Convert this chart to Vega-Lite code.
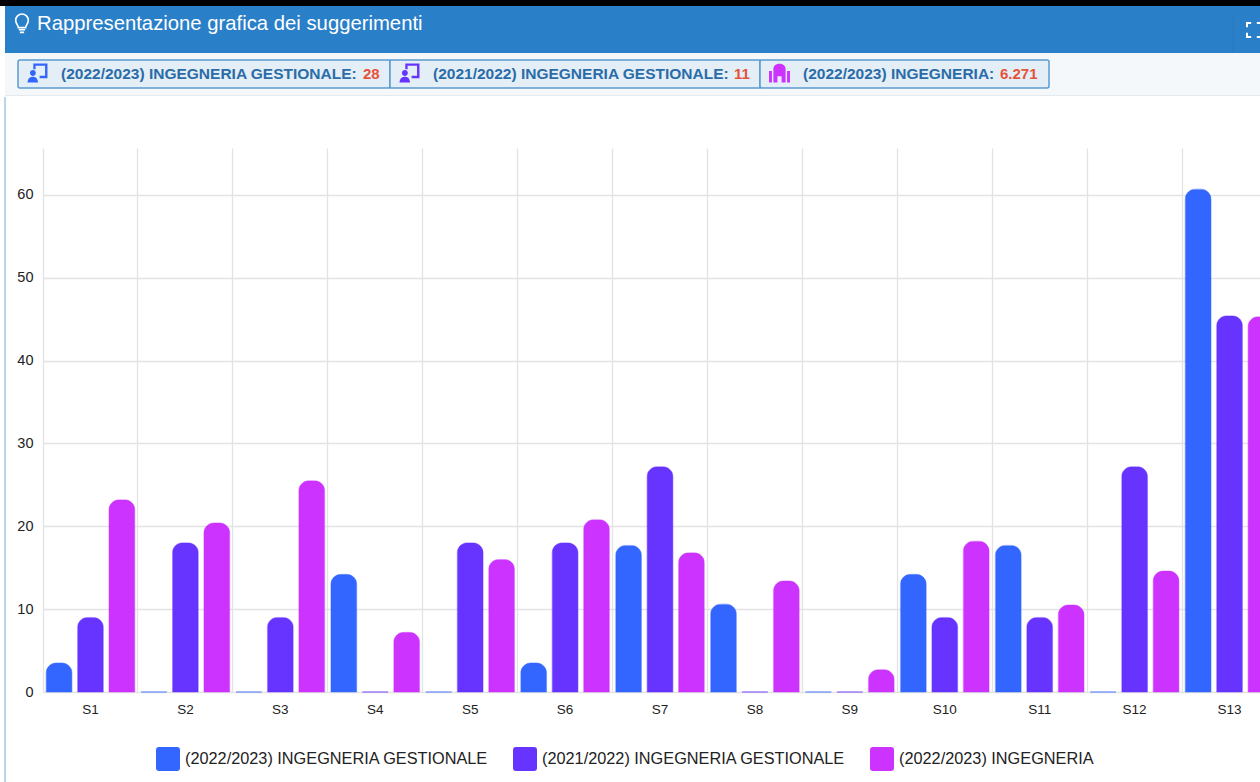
{
"$schema":"https://vega.github.io/schema/vega-lite/v6.json",
"background":"#ffffff",
"padding":0,
"autosize":{"type":"pad"},
"spacing":0,
"config":{"view":{"stroke":null},"font":"Liberation Sans"},
"vconcat":[
{"width":1217,"height":96,
 "data":{"values":[{"title":"Rappresentazione grafica dei suggerimenti"}]},
 "layer":[
  {"mark":{"type":"rect","color":"#000000"},"encoding":{"x":{"datum":0,"type":"quantitative","scale":{"domain":[43,1260],"range":[0,1217],"nice":false,"zero":false},"axis":null},"x2":{"datum":1260},"y":{"datum":0,"type":"quantitative","scale":{"domain":[0,96],"range":[0,96],"nice":false,"zero":false},"axis":null},"y2":{"datum":6}}},
  {"mark":{"type":"rect","color":"#2a7fc9"},"encoding":{"x":{"datum":5,"type":"quantitative"},"x2":{"datum":1260},"y":{"datum":6,"type":"quantitative"},"y2":{"datum":53}}},
  {"mark":{"type":"rect","color":"#f4f8fb"},"encoding":{"x":{"datum":5,"type":"quantitative"},"x2":{"datum":1260},"y":{"datum":53,"type":"quantitative"},"y2":{"datum":95}}},
  {"mark":{"type":"rule","color":"#e4e9ee"},"encoding":{"x":{"datum":5,"type":"quantitative"},"x2":{"datum":1260},"y":{"datum":95.5,"type":"quantitative"}}},
  {"mark":{"type":"rule","color":"#2878c0"},"encoding":{"x":{"datum":1233,"type":"quantitative"},"y":{"datum":16,"type":"quantitative"},"y2":{"datum":53}}},
  {"mark":{"type":"text","align":"left","baseline":"middle","fontSize":20.3,"color":"#ffffff"},"encoding":{"x":{"datum":37,"type":"quantitative"},"y":{"datum":24,"type":"quantitative"},"text":{"field":"title"}}},
  {"mark":{"type":"point","shape":"M-0.35,0.35C-0.35,0.1,-0.6,0,-0.6,-0.35A0.6,0.6,0,1,1,0.6,-0.35C0.6,0,0.35,0.1,0.35,0.35Z M-0.3,0.55H0.3 M-0.2,0.8H0.2","size":440,"filled":false,"stroke":"#ffffff","strokeWidth":1.6,"opacity":1},"encoding":{"x":{"datum":22,"type":"quantitative"},"y":{"datum":24,"type":"quantitative"}}},
  {"mark":{"type":"point","shape":"M-1,-0.4V-1H-0.4 M0.4,-1H1V-0.4 M1,0.4V1H0.4 M-0.4,1H-1V0.4","size":196,"filled":false,"stroke":"#ffffff","strokeWidth":2,"opacity":1},"encoding":{"x":{"datum":1254,"type":"quantitative"},"y":{"datum":30,"type":"quantitative"}}},
  {"mark":{"type":"rect","color":"#e4eef6","stroke":"#5a9bcf","strokeWidth":1.5,"cornerRadius":2},"encoding":{"x":{"datum":18,"type":"quantitative"},"x2":{"datum":390},"y":{"datum":60,"type":"quantitative"},"y2":{"datum":88}}},
  {"mark":{"type":"rect","color":"#e4eef6","stroke":"#5a9bcf","strokeWidth":1.5},"encoding":{"x":{"datum":390,"type":"quantitative"},"x2":{"datum":760},"y":{"datum":60,"type":"quantitative"},"y2":{"datum":88}}},
  {"mark":{"type":"rect","color":"#e4eef6","stroke":"#5a9bcf","strokeWidth":1.5,"cornerRadius":2},"encoding":{"x":{"datum":760,"type":"quantitative"},"x2":{"datum":1049},"y":{"datum":60,"type":"quantitative"},"y2":{"datum":88}}},
  {"mark":{"type":"point","shape":"M-0.72,0A0.28,0.28,0,1,0,-0.16,0A0.28,0.28,0,1,0,-0.72,0Z M-0.95,0.9C-0.95,0.45,-0.6,0.35,-0.44,0.35C-0.28,0.35,0.05,0.45,0.05,0.9Z M-0.4,-0.9H0.95V0.5H0.2V0.25H0.72V-0.68H-0.18V-0.35H-0.4Z","size":441,"filled":true,"fill":"#3366ff","strokeWidth":0,"opacity":1},"encoding":{"x":{"datum":37.5,"type":"quantitative"},"y":{"datum":73,"type":"quantitative"}}},
  {"mark":{"type":"point","shape":"M-0.72,0A0.28,0.28,0,1,0,-0.16,0A0.28,0.28,0,1,0,-0.72,0Z M-0.95,0.9C-0.95,0.45,-0.6,0.35,-0.44,0.35C-0.28,0.35,0.05,0.45,0.05,0.9Z M-0.4,-0.9H0.95V0.5H0.2V0.25H0.72V-0.68H-0.18V-0.35H-0.4Z","size":441,"filled":true,"fill":"#6633ff","strokeWidth":0,"opacity":1},"encoding":{"x":{"datum":409.5,"type":"quantitative"},"y":{"datum":73,"type":"quantitative"}}},
  {"mark":{"type":"point","shape":"M-1,0.9V-0.2H-0.72V0.9Z M0.72,0.9V-0.2H1V0.9Z M-0.58,0.9V-0.4C-0.58,-1.05,0.58,-1.05,0.58,-0.4V0.9H0.2V0.3H-0.2V0.9Z","size":441,"filled":true,"fill":"#cc33ff","strokeWidth":0,"opacity":1},"encoding":{"x":{"datum":779.5,"type":"quantitative"},"y":{"datum":73,"type":"quantitative"}}},
  {"mark":{"type":"text","align":"left","baseline":"middle","fontSize":15.5,"fontWeight":"bold","color":"#2a6ca8"},"encoding":{"x":{"datum":61,"type":"quantitative"},"y":{"datum":74,"type":"quantitative"},"text":{"datum":"(2022/2023) INGEGNERIA GESTIONALE:"}}},
  {"mark":{"type":"text","align":"left","baseline":"middle","fontSize":15,"fontWeight":"bold","color":"#e4533a"},"encoding":{"x":{"datum":363,"type":"quantitative"},"y":{"datum":74,"type":"quantitative"},"text":{"datum":"28"}}},
  {"mark":{"type":"text","align":"left","baseline":"middle","fontSize":15.5,"fontWeight":"bold","color":"#2a6ca8"},"encoding":{"x":{"datum":433,"type":"quantitative"},"y":{"datum":74,"type":"quantitative"},"text":{"datum":"(2021/2022) INGEGNERIA GESTIONALE:"}}},
  {"mark":{"type":"text","align":"left","baseline":"middle","fontSize":15,"fontWeight":"bold","color":"#e4533a"},"encoding":{"x":{"datum":734,"type":"quantitative"},"y":{"datum":74,"type":"quantitative"},"text":{"datum":"11"}}},
  {"mark":{"type":"text","align":"left","baseline":"middle","fontSize":15.5,"fontWeight":"bold","color":"#2a6ca8"},"encoding":{"x":{"datum":803,"type":"quantitative"},"y":{"datum":74,"type":"quantitative"},"text":{"datum":"(2022/2023) INGEGNERIA:"}}},
  {"mark":{"type":"text","align":"left","baseline":"middle","fontSize":15,"fontWeight":"bold","color":"#e4533a"},"encoding":{"x":{"datum":1000,"type":"quantitative"},"y":{"datum":74,"type":"quantitative"},"text":{"datum":"6.271"}}}
 ]},
{"width":1234,"height":544,
 "data":{"values":[
 {"s":"S1","serie":"(2022/2023) INGEGNERIA GESTIONALE","v":3.5},{"s":"S1","serie":"(2021/2022) INGEGNERIA GESTIONALE","v":9},{"s":"S1","serie":"(2022/2023) INGEGNERIA","v":23.2},
 {"s":"S2","serie":"(2022/2023) INGEGNERIA GESTIONALE","v":0},{"s":"S2","serie":"(2021/2022) INGEGNERIA GESTIONALE","v":18},{"s":"S2","serie":"(2022/2023) INGEGNERIA","v":20.4},
 {"s":"S3","serie":"(2022/2023) INGEGNERIA GESTIONALE","v":0},{"s":"S3","serie":"(2021/2022) INGEGNERIA GESTIONALE","v":9},{"s":"S3","serie":"(2022/2023) INGEGNERIA","v":25.5},
 {"s":"S4","serie":"(2022/2023) INGEGNERIA GESTIONALE","v":14.2},{"s":"S4","serie":"(2021/2022) INGEGNERIA GESTIONALE","v":0},{"s":"S4","serie":"(2022/2023) INGEGNERIA","v":7.2},
 {"s":"S5","serie":"(2022/2023) INGEGNERIA GESTIONALE","v":0},{"s":"S5","serie":"(2021/2022) INGEGNERIA GESTIONALE","v":18},{"s":"S5","serie":"(2022/2023) INGEGNERIA","v":16},
 {"s":"S6","serie":"(2022/2023) INGEGNERIA GESTIONALE","v":3.5},{"s":"S6","serie":"(2021/2022) INGEGNERIA GESTIONALE","v":18},{"s":"S6","serie":"(2022/2023) INGEGNERIA","v":20.8},
 {"s":"S7","serie":"(2022/2023) INGEGNERIA GESTIONALE","v":17.7},{"s":"S7","serie":"(2021/2022) INGEGNERIA GESTIONALE","v":27.2},{"s":"S7","serie":"(2022/2023) INGEGNERIA","v":16.8},
 {"s":"S8","serie":"(2022/2023) INGEGNERIA GESTIONALE","v":10.6},{"s":"S8","serie":"(2021/2022) INGEGNERIA GESTIONALE","v":0},{"s":"S8","serie":"(2022/2023) INGEGNERIA","v":13.4},
 {"s":"S9","serie":"(2022/2023) INGEGNERIA GESTIONALE","v":0},{"s":"S9","serie":"(2021/2022) INGEGNERIA GESTIONALE","v":0},{"s":"S9","serie":"(2022/2023) INGEGNERIA","v":2.7},
 {"s":"S10","serie":"(2022/2023) INGEGNERIA GESTIONALE","v":14.2},{"s":"S10","serie":"(2021/2022) INGEGNERIA GESTIONALE","v":9},{"s":"S10","serie":"(2022/2023) INGEGNERIA","v":18.2},
 {"s":"S11","serie":"(2022/2023) INGEGNERIA GESTIONALE","v":17.7},{"s":"S11","serie":"(2021/2022) INGEGNERIA GESTIONALE","v":9},{"s":"S11","serie":"(2022/2023) INGEGNERIA","v":10.5},
 {"s":"S12","serie":"(2022/2023) INGEGNERIA GESTIONALE","v":0},{"s":"S12","serie":"(2021/2022) INGEGNERIA GESTIONALE","v":27.2},{"s":"S12","serie":"(2022/2023) INGEGNERIA","v":14.6},
 {"s":"S13","serie":"(2022/2023) INGEGNERIA GESTIONALE","v":60.7},{"s":"S13","serie":"(2021/2022) INGEGNERIA GESTIONALE","v":45.4},{"s":"S13","serie":"(2022/2023) INGEGNERIA","v":45.3}
 ]},
 "resolve":{"scale":{"x":"independent"}},
 "layer":[
 {"mark":{"type":"rule","color":"#b9d5ec","strokeWidth":1.2},
  "encoding":{
   "x":{"datum":5,"type":"quantitative","scale":{"domain":[43,1277],"range":[0,1234],"nice":false,"zero":false},"axis":null},
   "y":{"datum":71.8,"type":"quantitative","scale":{"domain":[0,65.67],"nice":false},"axis":{"values":[0,10,20,30,40,50,60],"title":null,"labelFontSize":14.5,"labelColor":"#222222","labelPadding":10,"ticks":false,"domain":false,"grid":true,"gridColor":"#e3e3e3","gridWidth":1.3,"minExtent":43,"maxExtent":43}},
   "y2":{"datum":-10.87}}},
 {"mark":{"type":"bar","cornerRadiusTopLeft":10,"cornerRadiusTopRight":10,"strokeWidth":0.5},
 "encoding":{
  "x":{"field":"s","type":"nominal","sort":null,"scale":{"paddingInner":0,"paddingOuter":0},"title":null,
    "axis":{"labelAngle":0,"labelFontSize":13.5,"labelColor":"#222222","labelPadding":10,"ticks":false,"domain":false,"grid":true,"gridColor":"#e3e3e3","gridWidth":1.3,"bandPosition":0,"labelBound":false,"labelFlush":false,"labelOverlap":false}},
  "xOffset":{"field":"serie","sort":null,"scale":{"paddingInner":0.18,"paddingOuter":0.1}},
  "y":{"field":"v","type":"quantitative","title":null},
  "color":{"field":"serie","type":"nominal","sort":null,"scale":{"domain":["(2022/2023) INGEGNERIA GESTIONALE","(2021/2022) INGEGNERIA GESTIONALE","(2022/2023) INGEGNERIA"],"range":["#3366ff","#6633ff","#cc33ff"]},
    "legend":{"title":null,"orient":"none","direction":"horizontal","columns":3,"legendX":113,"legendY":747,"labelFontSize":16.3,"labelColor":"#222222","labelLimit":400,"symbolSize":576,"symbolStrokeWidth":0,"columnPadding":24,"labelOffset":5,"symbolType":"M-1,-0.75Q-1,-1,-0.75,-1H0.75Q1,-1,1,-0.75V0.75Q1,1,0.75,1H-0.75Q-1,1,-1,0.75Z"}},
  "stroke":{"field":"serie","type":"nominal","sort":null,"legend":null,"scale":{"domain":["(2022/2023) INGEGNERIA GESTIONALE","(2021/2022) INGEGNERIA GESTIONALE","(2022/2023) INGEGNERIA"],"range":["#3366ff","#6633ff","#cc33ff"]}}
 }}
 ]}
]}
